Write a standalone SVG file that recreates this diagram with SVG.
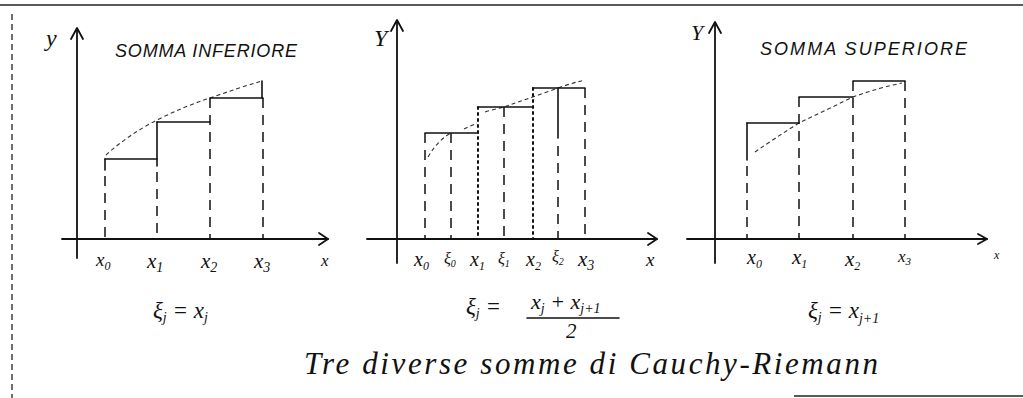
<svg xmlns="http://www.w3.org/2000/svg" width="1023" height="398" viewBox="0 0 1023 398">
<style>
.ln{stroke:#111;stroke-width:1.6;fill:none;stroke-linecap:round}
.ax{stroke:#111;stroke-width:1.8;fill:none;stroke-linecap:round;stroke-linejoin:round}
.ds{stroke:#111;stroke-width:1.5;fill:none;stroke-dasharray:10 7}
.dt{stroke:#111;stroke-width:2;fill:none;stroke-dasharray:2 4;stroke-linecap:round}
.cv{stroke:#333;stroke-width:1.1;fill:none;stroke-dasharray:4 3}
.brd{stroke:#222;stroke-width:1.3;fill:none}
.t{font-family:"Liberation Sans",Arial,sans-serif;fill:#111}
.h{font-family:"Liberation Serif","Times New Roman",serif;font-style:italic;fill:#111}
</style>
<rect width="1023" height="398" fill="#fff"/>
<g id="frame">
<line class="brd" x1="0" y1="5" x2="1023" y2="5"/>
<line class="brd" x1="12" y1="14" x2="12" y2="398" stroke-dasharray="6 4"/>
<line class="brd" x1="794" y1="396" x2="1023" y2="396"/>
</g>
<g id="panel-inferiore">
<line class="ax" x1="77" y1="258" x2="77" y2="29"/>
<polyline class="ax" points="71,39 77,28 83,39"/>
<text class="h" x="46" y="46" font-size="24">y</text>
<text class="t" x="115" y="57" font-size="18" font-style="italic" textLength="182">SOMMA INFERIORE</text>
<line class="ax" x1="62" y1="239" x2="328" y2="239"/>
<polyline class="ax" points="319,233 328,239 319,245"/>
<path class="cv" d="M106,155 Q128,135 157,120 Q185,106 210,98 Q238,88 262,81"/>
<line class="ln" x1="262" y1="81" x2="262" y2="98"/>
<line class="ln" x1="105" y1="159" x2="157" y2="159"/>
<line class="ln" x1="157" y1="122" x2="210" y2="122"/>
<line class="ln" x1="210" y1="98" x2="263" y2="98"/>
<line class="ln" x1="105" y1="159" x2="105" y2="170"/>
<line class="ds" x1="105" y1="176" x2="105" y2="239"/>
<line class="ln" x1="157" y1="122" x2="157" y2="166"/>
<line class="ds" x1="157" y1="172" x2="157" y2="239"/>
<line class="ds" x1="210" y1="98" x2="210" y2="239"/>
<line class="ds" x1="263" y1="98" x2="263" y2="239"/>
<text class="h" x="96" y="266" font-size="19">x<tspan font-size="12" dy="4">0</tspan></text>
<text class="h" x="147" y="268" font-size="21">x<tspan font-size="14" dy="4">1</tspan></text>
<text class="h" x="201" y="268" font-size="21">x<tspan font-size="14" dy="4">2</tspan></text>
<text class="h" x="254" y="268" font-size="21">x<tspan font-size="14" dy="4">3</tspan></text>
<text class="h" x="321" y="266" font-size="17">x</text>
<text class="h" x="153" y="318" font-size="23">ξ<tspan font-size="14" dy="4">j</tspan><tspan dy="-4"> = x</tspan><tspan font-size="14" dy="4">j</tspan></text>
</g>
<g id="panel-media">
<line class="ax" x1="397" y1="263" x2="397" y2="21"/>
<polyline class="ax" points="391,31 397,20 403,31"/>
<text class="h" x="374" y="46" font-size="24">Y</text>
<line class="ax" x1="367" y1="239" x2="657" y2="239"/>
<polyline class="ax" points="648,233 657,239 648,245"/>
<path class="cv" d="M428,157 Q438,140 451,133 M464,129 L477,123 M485,112 Q495,109 504,107 Q530,98 558,88 Q572,83 585,80"/>
<line class="ln" x1="425" y1="133" x2="478" y2="133"/>
<line class="ln" x1="478" y1="107" x2="533" y2="107"/>
<line class="ln" x1="533" y1="88" x2="585" y2="88"/>
<line class="ds" x1="425" y1="133" x2="425" y2="239"/>
<line class="ds" x1="451" y1="133" x2="451" y2="239"/>
<line class="dt" x1="478" y1="107" x2="478" y2="239"/>
<line class="ds" x1="504" y1="107" x2="504" y2="239"/>
<line class="dt" x1="533" y1="88" x2="533" y2="239"/>
<line class="ln" x1="558" y1="88" x2="558" y2="138"/>
<line class="ds" x1="558" y1="146" x2="558" y2="239"/>
<line class="ds" x1="585" y1="88" x2="585" y2="239"/>
<text class="h" x="414" y="266" font-size="20">x<tspan font-size="12" dy="4">0</tspan></text>
<text class="h" x="444" y="264" font-size="16">ξ<tspan font-size="10" dy="3">0</tspan></text>
<text class="h" x="470" y="266" font-size="20">x<tspan font-size="12" dy="4">1</tspan></text>
<text class="h" x="498" y="264" font-size="16">ξ<tspan font-size="10" dy="3">1</tspan></text>
<text class="h" x="526" y="266" font-size="20">x<tspan font-size="12" dy="4">2</tspan></text>
<text class="h" x="552" y="262" font-size="16">ξ<tspan font-size="10" dy="3">2</tspan></text>
<text class="h" x="578" y="266" font-size="21">x<tspan font-size="14" dy="4">3</tspan></text>
<text class="h" x="646" y="266" font-size="19">x</text>
<text class="h" x="466" y="314" font-size="23">ξ<tspan font-size="14" dy="4">j</tspan><tspan dy="-4"> =</tspan></text>
<text class="h" x="531" y="309" font-size="22">x<tspan font-size="14" dy="4">j</tspan><tspan dy="-4"> + x</tspan><tspan font-size="14" dy="4">j+1</tspan></text>
<line class="ln" x1="527" y1="318" x2="619" y2="318" stroke-width="1.2"/>
<text class="h" x="566" y="338" font-size="21">2</text>
</g>
<g id="panel-superiore">
<line class="ax" x1="715" y1="263" x2="715" y2="23"/>
<polyline class="ax" points="709,33 715,22 721,33"/>
<text class="h" x="691" y="40" font-size="22">Y</text>
<text class="t" x="760" y="55" font-size="18" font-style="italic" textLength="207">SOMMA SUPERIORE</text>
<line class="ax" x1="687" y1="239" x2="987" y2="239"/>
<polyline class="ax" points="978,234 987,239 978,244"/>
<path class="cv" d="M755,152 Q775,138 799,123 Q826,110 853,97 Q878,88 902,83"/>
<line class="ln" x1="747" y1="123" x2="799" y2="123"/>
<line class="ln" x1="799" y1="97" x2="853" y2="97"/>
<line class="ln" x1="853" y1="81" x2="905" y2="81"/>
<line class="ln" x1="747" y1="123" x2="747" y2="160"/>
<line class="ds" x1="747" y1="166" x2="747" y2="239"/>
<line class="ds" x1="799" y1="97" x2="799" y2="239"/>
<line class="ds" x1="853" y1="81" x2="853" y2="239"/>
<line class="ds" x1="905" y1="81" x2="905" y2="239"/>
<text class="h" x="747" y="264" font-size="20">x<tspan font-size="12" dy="4">0</tspan></text>
<text class="h" x="792" y="264" font-size="21">x<tspan font-size="12" dy="4">1</tspan></text>
<text class="h" x="845" y="266" font-size="21">x<tspan font-size="12" dy="4">2</tspan></text>
<text class="h" x="898" y="262" font-size="17">x<tspan font-size="11" dy="3">3</tspan></text>
<text class="h" x="994" y="259" font-size="12">x</text>
<text class="h" x="808" y="318" font-size="23">ξ<tspan font-size="14" dy="4">j</tspan><tspan dy="-4"> = x</tspan><tspan font-size="14" dy="5">j+1</tspan></text>
</g>
<text class="h" x="304" y="374" font-size="31" textLength="574">Tre diverse somme di Cauchy-Riemann</text>
</svg>
